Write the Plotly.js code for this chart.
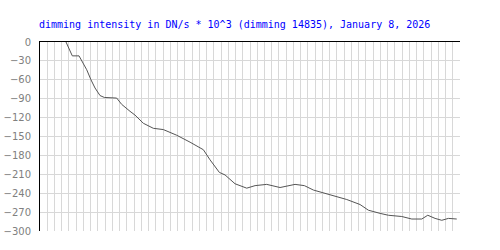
<!DOCTYPE html>
<html>
<head>
<meta charset="utf-8">
<script src="https://cdn.plot.ly/plotly-3.0.1.min.js"></script>
<style>html,body{margin:0;padding:0;background:#fff;}#chart{width:500px;height:250px;}</style>
</head>
<body>
<div id="chart"></div>
<script>
// x positions in grid-cell units (58 cells across the plot), y values in DN/s * 10^3
var timeIdx = [3.59, 4.46, 5.39, 5.76, 6.45, 7.04, 7.60, 8.29, 8.88, 10.59, 11.28, 12.43, 13.12,
  14.27, 15.65, 17.03, 18.88, 20.72, 22.56, 23.48, 24.77, 25.55, 26.93, 28.55, 29.70, 31.31,
  33.15, 35.22, 36.51, 37.76, 40.06, 42.36, 44.20, 45.35, 46.96, 48.11, 49.96, 51.34, 52.72,
  53.55, 54.56, 55.48, 56.40, 57.55];
var intensity = [0, -22, -22, -29, -44, -60, -73, -85, -88, -89, -99, -110, -116,
  -129, -137, -139, -148, -159, -171, -187, -207, -211, -225, -232, -228, -226,
  -231, -226, -228, -235, -242, -250, -258, -267, -272, -275, -277, -281, -281,
  -275, -280, -283, -280, -281];
var yTicks = [0, -30, -60, -90, -120, -150, -180, -210, -240, -270, -300];
var titleText = 'dimming intensity in DN/s * 10^3 (dimming 14835), January 8, 2026';

var trace = {
  x: timeIdx, y: intensity, type: 'scatter', mode: 'lines',
  line: {color: '#555555', width: 1}, hoverinfo: 'none'
};
var layout = {
  width: 500, height: 250,
  margin: {l: 40, r: 40, t: 42, b: 19, pad: 0},
  paper_bgcolor: '#ffffff', plot_bgcolor: '#ffffff',
  showlegend: false,
  title: {
    text: titleText, xref: 'container', yref: 'container',
    x: 0.078, xanchor: 'left', y: 0.902, yanchor: 'middle',
    font: {family: 'DejaVu Sans Mono', size: 10, color: '#0000ff'}
  },
  xaxis: {
    range: [0, 58], dtick: 1, tick0: 0, side: 'top',
    showticklabels: false, ticks: '',
    showgrid: true, gridcolor: '#d8d8d8', gridwidth: 1,
    showline: true, linecolor: '#000000', linewidth: 1,
    zeroline: false, fixedrange: true
  },
  yaxis: {
    range: [-300, 0], tickvals: yTicks, ticktext: yTicks.map(function(v){return v === 0 ? '0' : '\u2212' + Math.abs(v);}),
    ticks: '', ticklabelstandoff: 6,
    showgrid: true, gridcolor: '#d8d8d8', gridwidth: 1,
    showline: true, linecolor: '#000000', linewidth: 1,
    zeroline: false, fixedrange: true,
    tickfont: {family: 'DejaVu Sans', size: 10, color: '#808080'}
  }
};
Plotly.newPlot('chart', [trace], layout, {staticPlot: true, displayModeBar: false});
</script>
</body>
</html>
